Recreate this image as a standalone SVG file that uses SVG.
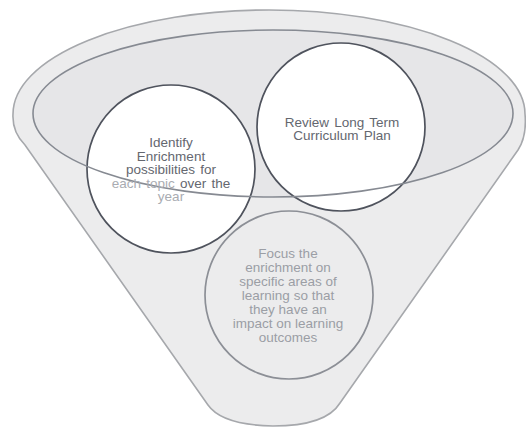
<svg xmlns="http://www.w3.org/2000/svg" width="526" height="428" viewBox="0 0 526 428">
<style>
.funnel{fill:#ececed;stroke:#a6a8ac;stroke-width:1.6}
.rimfill{fill:#e6e6e8;stroke:none}
.rim{fill:none;stroke:#868a92;stroke-width:1.6}
.circ{fill:#ffffff;stroke:#4f535d;stroke-width:1.7}
.circ2{fill:#ececed;stroke:#8c8f96;stroke-width:1.7}
text{font-family:"Liberation Sans",Arial,sans-serif;font-size:13.5px;text-anchor:middle}
.t1{fill:#64676f}
.t2{fill:#9b9ea5}
.faint{fill:#a9acb2}
</style>
<rect width="526" height="428" fill="#ffffff"/>
<g id="funnel">
<path class="funnel" d="M13,114 A256,104 0 0 1 525,114 Q527,136 518,150 L340,403 Q326,426 273,426 Q222,425 208,405 L25,145 Q12,132 13,114 Z"/>
<ellipse class="rimfill" cx="273" cy="113.5" rx="240" ry="83.5"/>
</g>
<g id="node-identify">
<circle class="circ" cx="171" cy="169" r="84"/>
</g>
<g id="node-review">
<circle class="circ" cx="341" cy="127" r="84"/>
</g>
<g id="node-focus">
<circle class="circ2" cx="289" cy="295" r="84"/>
</g>
<g id="rim">
<ellipse class="rim" cx="273" cy="113.5" rx="240" ry="83.5"/>
</g>
<g id="labels">
<text class="t1" word-spacing="1.5"><tspan x="171" y="147">Identify</tspan><tspan x="171" y="160.5">Enrichment</tspan><tspan x="171" y="174">possibilities for</tspan><tspan x="171" y="187.5"><tspan class="faint">each topic</tspan> over the</tspan><tspan x="171" y="201" class="faint">year</tspan></text>
<text class="t1" word-spacing="1.5"><tspan x="342" y="126.5">Review Long Term</tspan><tspan x="342" y="140">Curriculum Plan</tspan></text>
<text class="t2"><tspan x="288" y="257.5">Focus the</tspan><tspan x="288" y="271.5">enrichment on</tspan><tspan x="288" y="285.5">specific areas of</tspan><tspan x="288" y="299.5">learning so that</tspan><tspan x="288" y="313.5">they have an</tspan><tspan x="288" y="327.5">impact on learning</tspan><tspan x="288" y="341.5">outcomes</tspan></text>
</g>
</svg>
